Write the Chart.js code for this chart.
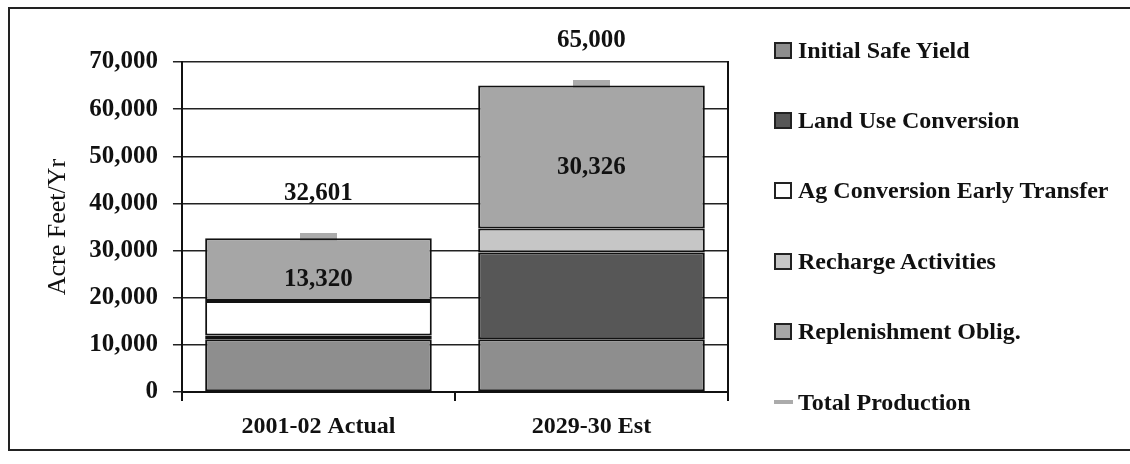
<!DOCTYPE html>
<html>
<head>
<meta charset="utf-8">
<script src="https://cdn.jsdelivr.net/npm/chart.js@4"></script>
<style>
  html, body { margin: 0; padding: 0; background: #fff; }
  #wrap { position: relative; width: 1130px; height: 464px; }
  #frame { position: absolute; left: 8px; top: 7px; width: 1130px; height: 444px; border: 2px solid #222; box-sizing: border-box; }
  #chart { position: absolute; left: 0; top: 0; }
  #legend { position: absolute; left: 774px; top: 15px; margin: 0; padding: 0; list-style: none; }
  #legend li { display: flex; align-items: center; height: 70.4px; font: bold 24px "Liberation Serif"; color: #111; white-space: nowrap; }
  #legend .box { display: inline-block; width: 18px; height: 17px; box-sizing: border-box; border: 2px solid #222; margin-right: 6px; }
  #legend .dash { display: inline-block; width: 19px; height: 4px; margin-right: 5px; }
</style>
</head>
<body>
<div id="wrap">
  <div id="frame"></div>
  <canvas id="chart" width="1130" height="464"></canvas>
  <ul id="legend"></ul>
</div>
<script>
// Categories and stacked components (acre feet per year)
var years = ['2001-02 Actual', '2029-30 Est'];
var safeYield = [11200, 11200];
var landUse = [800, 18400];
var agEarly = [7281, 0];
var recharge = [0, 5074];
var replenish = [13320, 30326];
var totalProd = [32601, 65000];
var yTicks = [0, 10000, 20000, 30000, 40000, 50000, 60000, 70000];

const serif = 'Liberation Serif';
const markerGrey = '#ababab';

// small grey bar used as the total production marker
function stub(w, h) {
    let c = document.createElement('canvas');
    c.width = w;
    c.height = h;
    let g = c.getContext('2d');
    g.fillStyle = markerGrey;
    g.fillRect(0, 0, w, h);
    return c;
}

function fmt(v) {
    return v.toLocaleString('en-US');
}

function barSet(label, data, color) {
    return {
        type: 'bar',
        label: label,
        data: data,
        backgroundColor: color,
        borderColor: '#111',
        borderWidth: 2,
        borderSkipped: false,
        barPercentage: 0.83,
        categoryPercentage: 1.0
    };
}

// value labels: inside the replenishment block and above each total
const valueLabels = {
    id: 'valueLabels',
    afterDatasetsDraw(chart) {
        const ctx = chart.ctx;
        ctx.save();
        ctx.font = 'bold 25px "' + serif + '"';
        ctx.fillStyle = '#111';
        ctx.textAlign = 'center';
        ctx.textBaseline = 'middle';
        chart.getDatasetMeta(4).data.forEach((bar, i) => {
            ctx.fillText(fmt(replenish[i]), bar.x, (bar.y + bar.base) / 2 + 10);
        });
        chart.getDatasetMeta(5).data.forEach((pt, i) => {
            ctx.fillText(fmt(totalProd[i]), pt.x, pt.y - 45);
        });
        ctx.restore();
    }
};

// legend list built from the datasets
const htmlLegend = {
    id: 'htmlLegend',
    afterUpdate(chart) {
        const ul = document.getElementById('legend');
        ul.innerHTML = '';
        chart.data.datasets.forEach(ds => {
            const li = document.createElement('li');
            const mark = document.createElement('span');
            if (ds.type === 'line') {
                mark.className = 'dash';
                mark.style.background = markerGrey;
            } else {
                mark.className = 'box';
                mark.style.background = ds.backgroundColor;
            }
            li.appendChild(mark);
            li.appendChild(document.createTextNode(ds.label));
            ul.appendChild(li);
        });
    }
};

let ctx = document.getElementById('chart').getContext('2d');
let myChart = new Chart(ctx, {
    data: {
        labels: years,
        datasets: [
            barSet('Initial Safe Yield', safeYield, '#8e8e8e'),
            barSet('Land Use Conversion', landUse, '#575757'),
            barSet('Ag Conversion Early Transfer', agEarly, '#ffffff'),
            barSet('Recharge Activities', recharge, '#c6c6c6'),
            barSet('Replenishment Oblig.', replenish, '#a6a6a6'),
            {
                type: 'line',
                label: 'Total Production',
                data: totalProd,
                stack: 'total',
                showLine: false,
                pointStyle: stub(37, 11),
                pointRadius: 3,
                pointHoverRadius: 3
            }
        ]
    },
    options: {
        responsive: false,
        animation: false,
        layout: { padding: { left: 43, right: 402, top: 62, bottom: 0 } },
        plugins: {
            tooltip: { enabled: false },
            legend: { display: false }
        },
        scales: {
            x: {
                stacked: true,
                ticks: {
                    color: '#111',
                    padding: 11,
                    font: { family: serif, size: 24, weight: 'bold' }
                },
                grid: {
                    drawOnChartArea: false,
                    color: '#111',
                    lineWidth: 2,
                    tickLength: 9
                },
                border: { color: '#111', width: 2 },
                afterFit: function(scale) {
                    scale.height = 72;
                }
            },
            y: {
                stacked: true,
                min: 0,
                max: 70000,
                afterBuildTicks: function(scale) {
                    scale.ticks = yTicks.map(v => ({ value: v }));
                },
                ticks: {
                    color: '#111',
                    padding: 15,
                    font: { family: serif, size: 25, weight: 'bold' },
                    callback: function(value) {
                        return fmt(value);
                    }
                },
                grid: {
                    color: '#222',
                    lineWidth: 1.5,
                    tickLength: 9
                },
                border: { color: '#111', width: 2 },
                title: {
                    display: true,
                    text: 'Acre Feet/Yr',
                    color: '#111',
                    padding: { top: 0, bottom: 0 },
                    font: { family: serif, size: 26 }
                }
            },
            yRight: {
                position: 'right',
                min: 0,
                max: 70000,
                ticks: { display: false },
                grid: { drawOnChartArea: false, drawTicks: false },
                border: { color: '#111', width: 2 },
                afterFit: function(scale) {
                    scale.width = 0;
                }
            }
        }
    },
    plugins: [valueLabels, htmlLegend]
});
</script>
</body>
</html>
